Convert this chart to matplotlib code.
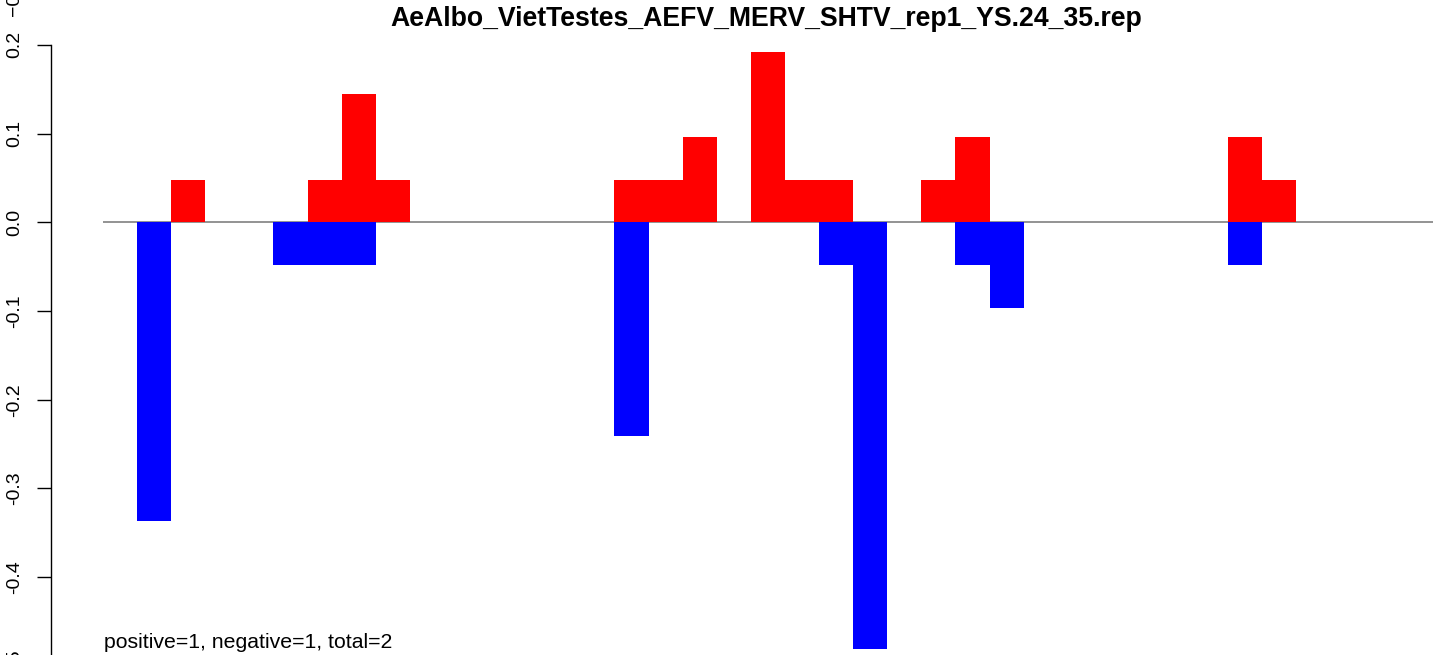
import matplotlib
matplotlib.use("Agg")
import matplotlib.pyplot as plt
import numpy as np

plt.rcParams['font.family'] = ['Liberation Sans', 'DejaVu Sans']

title = "AeAlbo_VietTestes_AEFV_MERV_SHTV_rep1_YS.24_35.rep"
note = "positive=1, negative=1, total=2"

# one value per window (39 windows)
pos_vals = [0, 0, 0.0481, 0, 0, 0, 0.0481, 0.1442, 0.0481, 0,
            0, 0, 0, 0, 0, 0.0481, 0.0481, 0.0962, 0, 0.1923,
            0.0481, 0.0481, 0, 0, 0.0481, 0.0962, 0, 0, 0, 0,
            0, 0, 0, 0.0962, 0.0481, 0, 0, 0, 0]
neg_vals = [0, -0.3365, 0, 0, 0, -0.0481, -0.0481, -0.0481, 0, 0,
            0, 0, 0, 0, 0, -0.2404, 0, 0, 0, 0,
            0, -0.0481, -0.4808, 0, 0, -0.0481, -0.0962, 0, 0, 0,
            0, 0, 0, -0.0481, 0, 0, 0, 0, 0]
yticks = [0.2, 0.1, 0.0, -0.1, -0.2, -0.3, -0.4, -0.5]

W, H = 1433, 655
fig = plt.figure(figsize=(W / 100, H / 100), dpi=100)

# pixel layout of the R plot: x = 102.9 + 34.1*slot, y = 222.3 - 887*value
y0_px, yscale = 222.3, 887
ylo, yhi = -0.55, 0.25
left_px = 51
ax = fig.add_axes([left_px / W, (H - (y0_px + yscale * -ylo)) / H,
                   (W - left_px) / W, yscale * (yhi - ylo) / H])
x0 = (left_px - 102.9) / 34.1
x1 = (W - 102.9) / 34.1
ax.set_xlim(x0, x1)
ax.set_ylim(ylo, yhi)

n = len(pos_vals)
x = np.arange(n)
ax.hlines(0, 0, x1, color='#808080', lw=1.2, zorder=1)
ax.bar(x, pos_vals, width=1, align='edge', color='#ff0000', linewidth=0, zorder=2)
ax.bar(x, neg_vals, width=1, align='edge', color='#0000ff', linewidth=0, zorder=2)

for s in ['top', 'right', 'bottom']:
    ax.spines[s].set_visible(False)
ax.spines['left'].set_bounds(-0.5, 0.2)
ax.spines['left'].set_linewidth(1)
ax.set_xticks([])
ax.set_yticks(yticks)
ax.set_yticklabels([f"{v:.1f}" for v in yticks], rotation=90, va='center')
ax.tick_params(axis='y', length=10, width=1, pad=10, labelsize=14)

fig.text(766 / W, (H - 26) / H, title, ha='center', va='baseline',
         fontsize=19.2, fontweight='bold')
fig.text(104 / W, (H - 648) / H, note, ha='left', va='baseline', fontsize=15.3)
# clipped label from the panel above
fig.text(15 / W, (H - 16) / H, "\u22120.5", rotation=90, ha='center', va='bottom',
         fontsize=14)

fig.savefig("out.png", dpi=100)
